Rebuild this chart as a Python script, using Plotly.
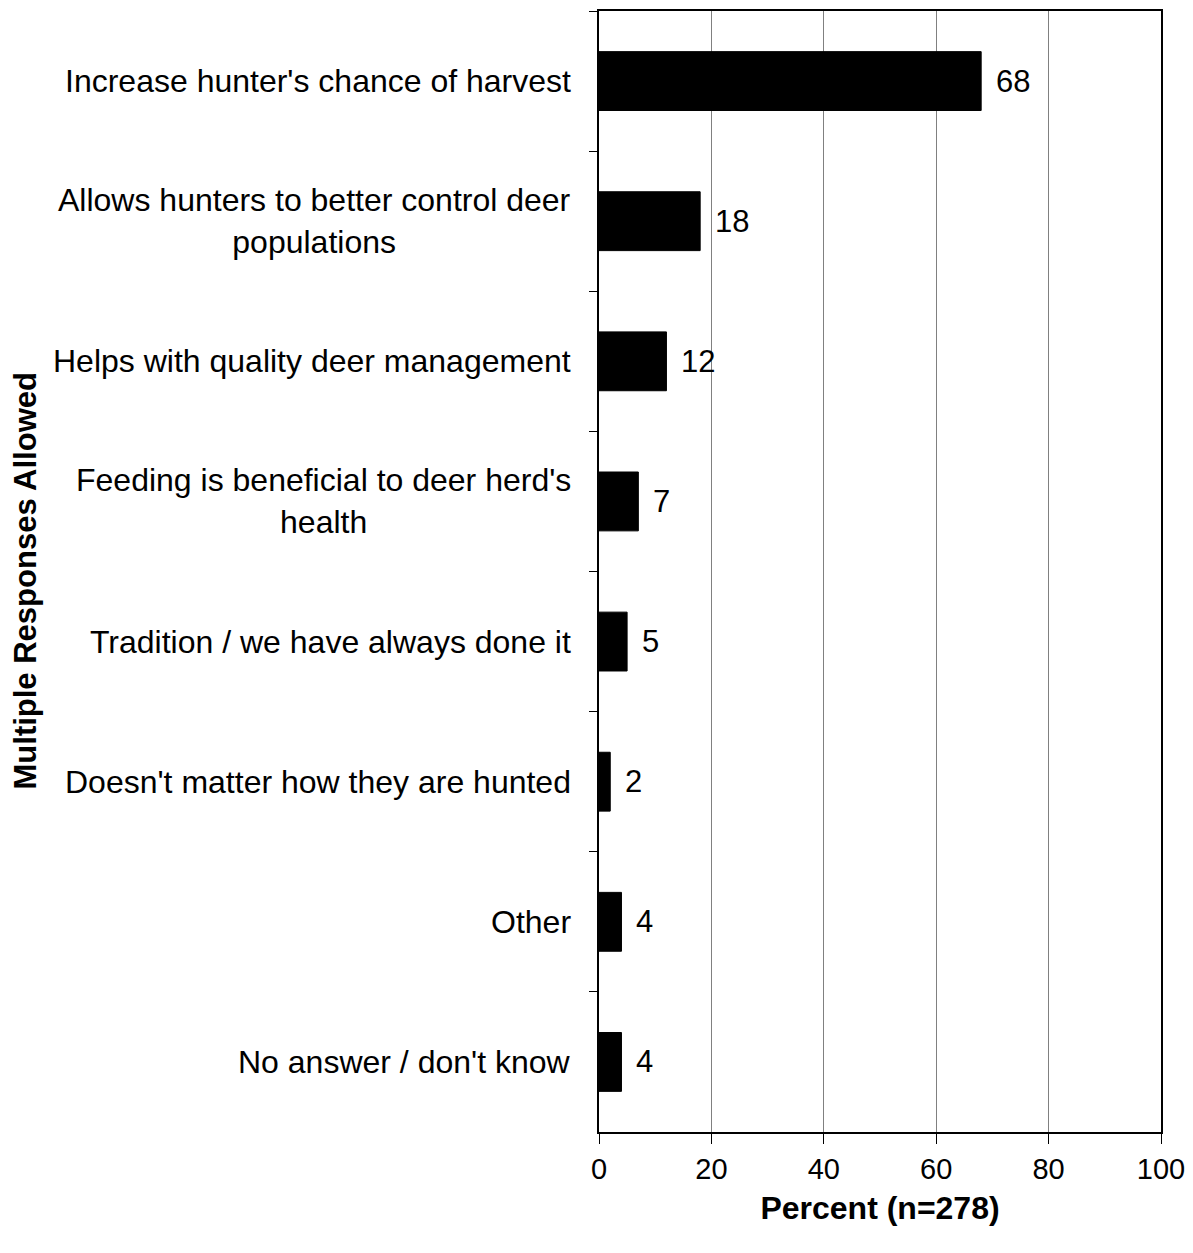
import plotly.graph_objects as go

categories = [
    "Increase hunter's chance of harvest",
    "Allows hunters to better control deer<br>populations",
    "Helps with quality deer management",
    "Feeding is beneficial to deer herd's<br>health",
    "Tradition / we have always done it",
    "Doesn't matter how they are hunted",
    "Other",
    "No answer / don't know",
]
values = [68, 18, 12, 7, 5, 2, 4, 4]
x_ticks = [0, 20, 40, 60, 80, 100]

FONT = "Liberation Sans, Arial, sans-serif"

fig = go.Figure()
fig.add_trace(go.Bar(
    y=categories, x=values, orientation="h",
    marker=dict(color="black", line=dict(color="black", width=1)),
    width=0.42,
    hoverinfo="x+y",
))

annotations = []
for c, v in zip(categories, values):
    annotations.append(dict(
        x=v, y=c, xref="x", yref="y", text=str(v), showarrow=False,
        xanchor="left", yanchor="middle", xshift=13,
        font=dict(family=FONT, size=31, color="black"),
    ))
    annotations.append(dict(
        x=0, y=c, xref="paper", yref="y", text=c, showarrow=False,
        xanchor="right", yanchor="middle", xshift=-26, align="center",
        font=dict(family=FONT, size=32, color="black"),
    ))
annotations.append(dict(
    x=-1.0196, y=0.5, xref="paper", yref="paper",
    text="<b>Multiple Responses Allowed</b>", textangle=-90, showarrow=False,
    xanchor="center", yanchor="middle", yshift=-9,
    font=dict(family=FONT, size=31, color="black"),
))

fig.update_layout(
    width=1185, height=1245,
    margin=dict(l=591, r=32, t=1, b=121),
    paper_bgcolor="white", plot_bgcolor="white",
    showlegend=False,
    annotations=annotations,
    font=dict(family=FONT, size=29, color="black"),
    xaxis=dict(
        range=[0, 100], tickvals=x_ticks, ticks="outside", ticklen=10,
        tickcolor="black", tickwidth=1,
        showgrid=True, gridcolor="#808080", gridwidth=1,
        showline=True, linecolor="black", linewidth=2, mirror=True,
        zeroline=False,
        tickfont=dict(family=FONT, size=29, color="black"),
        title=dict(text="<b>Percent (n=278)</b>", standoff=13,
                   font=dict(family=FONT, size=32, color="black")),
    ),
    yaxis=dict(
        type="category", autorange="reversed", tickson="boundaries",
        ticks="outside", ticklen=8, tickcolor="black", tickwidth=1,
        showticklabels=False, showgrid=False,
        showline=True, linecolor="black", linewidth=2, mirror=True,
    ),
)

fig.write_html("out.html")
